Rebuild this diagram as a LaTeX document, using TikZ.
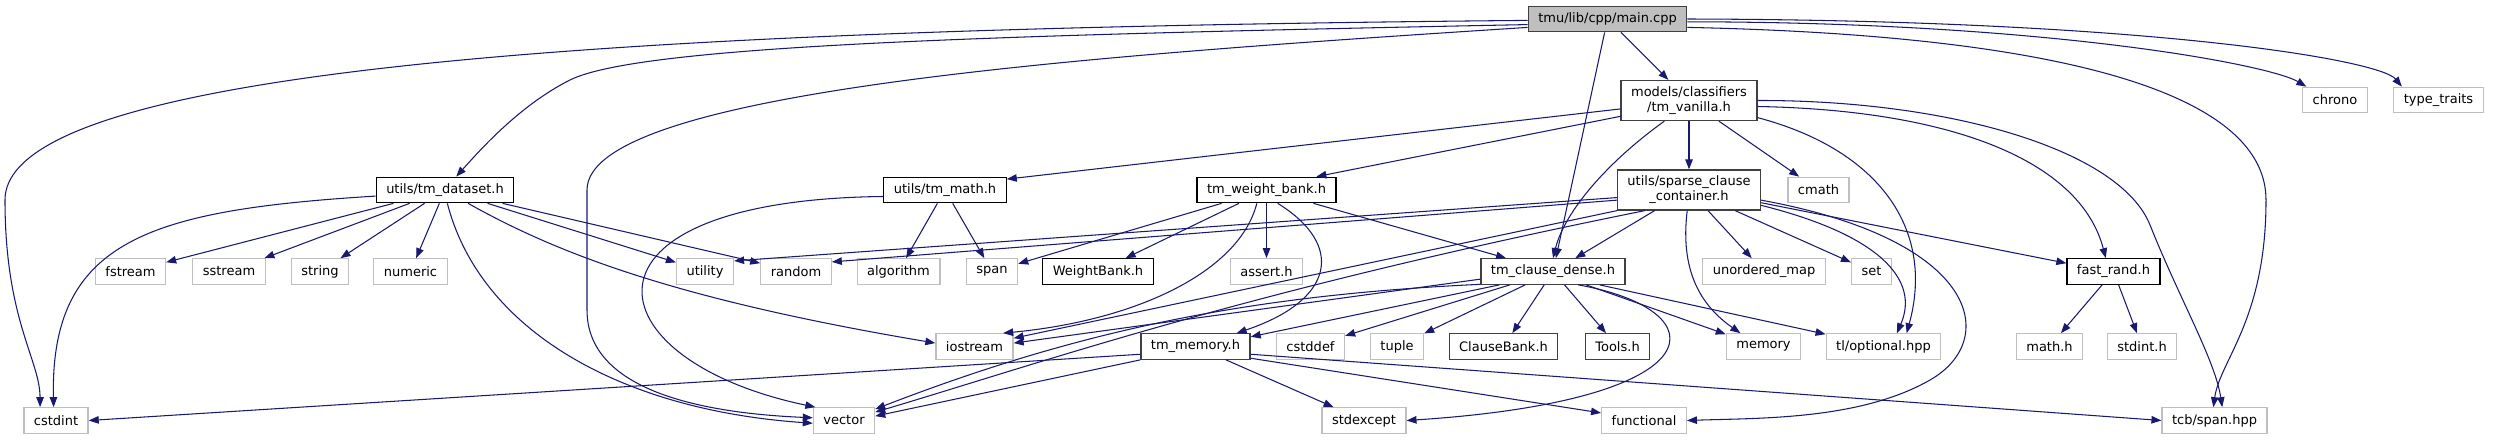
\documentclass[tikz,border=0pt]{standalone}
\usepackage{fontspec}
\setmainfont{DejaVu Sans}
\usetikzlibrary{arrows.meta}
\definecolor{edgeblue}{HTML}{191970}
\definecolor{sysgray}{HTML}{BFBFBF}
\definecolor{incgray}{HTML}{404040}
\begin{document}
\begin{tikzpicture}[x=0.02cm, y=-0.02cm, font=\fontsize{7.4}{8.6}\selectfont,
  file/.style={draw, line width=0.7pt, inner xsep=0.2cm, inner ysep=0.12cm, minimum height=0.51cm, align=center},
  sysfile/.style={file, draw=sysgray},
  docfile/.style={file, draw=black},
  incfile/.style={file, draw=incgray},
  rootfile/.style={incfile, fill=sysgray},
  dep/.style={draw=edgeblue, line width=0.6pt, -{Triangle[length=0.2cm,width=0.15cm]}}]
\useasboundingbox (0,0) rectangle (2497,440);

\node[rootfile] (main) at (1607.5,19) {tmu/lib/cpp/main.cpp};
\node[incfile] (vanilla) at (1689,100.5) {models/classifiers\\/tm\_vanilla.h};
\node[sysfile] (chrono) at (2335,100) {chrono};
\node[sysfile] (typetraits) at (2438.5,100) {type\_traits};

\node[docfile] (dataset) at (445,190) {utils/tm\_dataset.h};
\node[docfile] (tmmath) at (945,190) {utils/tm\_math.h};
\node[docfile] (wbank) at (1266.5,190) {tm\_weight\_bank.h};
\node[incfile] (sparse) at (1689,190) {utils/sparse\_clause\\\_container.h};
\node[sysfile] (cmath) at (1818.5,190) {cmath};

\node[sysfile] (fstream) at (130.5,271.5) {fstream};
\node[sysfile] (sstream) at (229,271.5) {sstream};
\node[sysfile] (string) at (320,271.5) {string};
\node[sysfile] (numeric) at (410.5,271.5) {numeric};
\node[sysfile] (utility) at (705,271.5) {utility};
\node[sysfile] (random) at (796,271.5) {random};
\node[sysfile] (algorithm) at (898.5,271.5) {algorithm};
\node[sysfile] (span) at (992,271.5) {span};
\node[docfile] (weightbank) at (1098,271.5) {WeightBank.h};
\node[sysfile] (assert) at (1266.5,271.5) {assert.h};
\node[incfile] (dense) at (1553,271.5) {tm\_clause\_dense.h};
\node[sysfile] (umap) at (1764,271.5) {unordered\_map};
\node[sysfile] (set) at (1871.5,271.5) {set};
\node[docfile] (fastrand) at (2113.5,271.5) {fast\_rand.h};

\node[sysfile] (iostream) at (974.5,346.5) {iostream};
\node[incfile] (memoryh) at (1195.5,346.5) {tm\_memory.h};
\node[sysfile] (cstddef) at (1310.5,346.5) {cstddef};
\node[sysfile] (tuple) at (1397,346.5) {tuple};
\node[incfile] (clausebank) at (1503.5,346.5) {ClauseBank.h};
\node[incfile] (tools) at (1617.5,346.5) {Tools.h};
\node[sysfile] (memory) at (1763.5,346.5) {memory};
\node[sysfile] (optional) at (1883.5,346.5) {tl/optional.hpp};
\node[sysfile] (mathh) at (2049.5,346.5) {math.h};
\node[sysfile] (stdinth) at (2142,346.5) {stdint.h};

\node[sysfile] (cstdint) at (56,420.5) {cstdint};
\node[sysfile] (vector) at (844,420.5) {vector};
\node[sysfile] (stdexcept) at (1364,420.5) {stdexcept};
\node[sysfile] (functional) at (1644,420.5) {functional};
\node[sysfile] (tcbspan) at (2214.5,420.5) {tcb/span.hpp};

\draw[dep] (main.181) .. controls (700,28) and (5,60) .. (5,200) .. controls (5,320) and (40,360) .. (cstdint.140);
\draw[dep] (main.184) .. controls (1000,35) and (640,45) .. (570,80) .. controls (520,105) and (480,150) .. (dataset.50);
\draw[dep] (main.186) .. controls (1100,55) and (587,90) .. (587,190) -- (587,310) .. controls (587,390) and (700,413) .. (vector.175);
\draw[dep] (main) -- (vanilla);
\draw[dep] (main) -- (dense);
\draw[dep] (main.east) .. controls (2150,20) and (2380,60) .. (typetraits.160);
\draw[dep] (main.-2) .. controls (2050,22) and (2270,65) .. (chrono.155);
\draw[dep] (main.-6) .. controls (2050,35) and (2266,90) .. (2266,200) .. controls (2266,320) and (2220,360) .. (tcbspan.95);

\draw[dep] (vanilla.187) -- (tmmath.10);
\draw[dep] (vanilla.193) -- (wbank.15);
\draw[dep] (vanilla) -- (sparse);
\draw[dep] (vanilla) -- (cmath);
\draw[dep] (vanilla.220) .. controls (1610,160) and (1565,210) .. (dense.north);
\draw[dep] (vanilla.east) .. controls (1950,100) and (2120,150) .. (2150,225) .. controls (2180,300) and (2215,360) .. (tcbspan.60);
\draw[dep] (vanilla.-5) .. controls (1950,110) and (2080,160) .. (fastrand.120);
\draw[dep] (vanilla.-14) .. controls (1880,150) and (1935,230) .. (optional.30);

\draw[dep] (dataset) -- (fstream);
\draw[dep] (dataset) -- (sstream);
\draw[dep] (dataset) -- (string);
\draw[dep] (dataset) -- (numeric);
\draw[dep] (dataset) -- (utility);
\draw[dep] (dataset) -- (random);
\draw[dep] (dataset.185) .. controls (150,210) and (50,240) .. (cstdint.100);
\draw[dep] (dataset.-80) .. controls (480,330) and (620,410) .. (vector.185);
\draw[dep] (dataset.-30) .. controls (560,255) and (680,300) .. (iostream.175);

\draw[dep] (tmmath) -- (algorithm);
\draw[dep] (tmmath) -- (span);
\draw[dep] (tmmath.186) .. controls (560,200) and (590,360) .. (vector.155);

\draw[dep] (wbank) -- (span);
\draw[dep] (wbank) -- (weightbank);
\draw[dep] (wbank) -- (assert);
\draw[dep] (wbank) -- (dense);
\draw[dep] (wbank.234) .. controls (1240,270) and (1140,320) .. (iostream.25);
\draw[dep] (wbank.-50) .. controls (1345,245) and (1335,300) .. (memoryh.18);

\draw[dep] (sparse) -- (dense);
\draw[dep] (sparse.186) -- (utility.20);
\draw[dep] (sparse.188) -- (random.15);
\draw[dep] (sparse.south west) -- (iostream.12);
\draw[dep] (sparse.205) .. controls (1250,290) and (1050,360) .. (vector.15);
\draw[dep] (sparse) -- (umap);
\draw[dep] (sparse) -- (set);
\draw[dep] (sparse.-95) .. controls (1680,270) and (1700,305) .. (memory.150);
\draw[dep] (sparse.-12) .. controls (1880,235) and (1920,280) .. (optional.45);
\draw[dep] (sparse.-10) -- (fastrand.170);
\draw[dep] (sparse.-8) .. controls (1980,240) and (2000,340) .. (1930,380) .. controls (1860,420) and (1760,418) .. (functional.east);

\draw[dep] (dense.186) -- (iostream.5);
\draw[dep] (dense.190) .. controls (1250,295) and (1080,330) .. (vector.20);
\draw[dep] (dense.194) -- (memoryh.10);
\draw[dep] (dense) -- (cstddef);
\draw[dep] (dense) -- (tuple);
\draw[dep] (dense) -- (clausebank);
\draw[dep] (dense) -- (tools);
\draw[dep] (dense.-22) -- (memory.162);
\draw[dep] (dense.-16) -- (optional.168);
\draw[dep] (dense.-28) .. controls (1720,310) and (1720,400) .. (stdexcept.east);

\draw[dep] (memoryh.188) -- (cstdint.east);
\draw[dep] (memoryh.south west) -- (vector.8);
\draw[dep] (memoryh) -- (stdexcept);
\draw[dep] (memoryh.-12) -- (functional.170);
\draw[dep] (memoryh.-8) -- (tcbspan.west);

\draw[dep] (fastrand) -- (mathh);
\draw[dep] (fastrand) -- (stdinth);
\end{tikzpicture}
\end{document}
